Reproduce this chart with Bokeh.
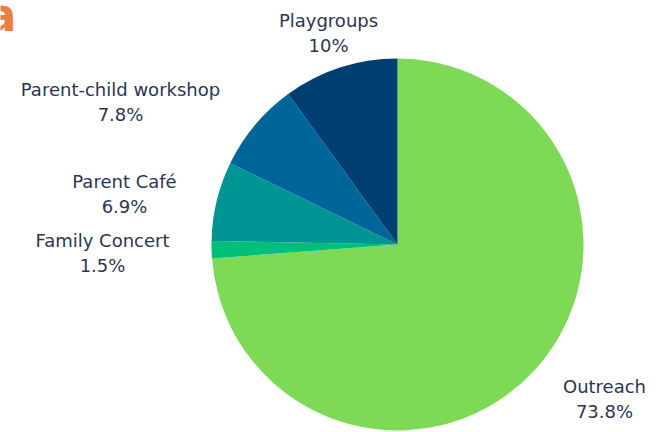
import math
from bokeh.plotting import figure
from bokeh.models import Range1d, ColumnDataSource
from bokeh.core.properties import value
from bokeh.embed import file_html
from bokeh.resources import INLINE

categories = ["Outreach", "Family Concert", "Parent Café", "Parent-child workshop", "Playgroups"]
shares = [73.8, 1.5, 6.9, 7.8, 10.0]
pct_labels = ["73.8%", "1.5%", "6.9%", "7.8%", "10%"]
colors = ["#7ED957", "#00BF7A", "#009494", "#006699", "#003F72"]

# layout (screen pixels of the picture)
W, H = 660, 432
CX, CY, R = 397, 244, 186
label_pos = [(604, 386), (102, 240), (124, 181), (120, 89), (328, 20)]
TEXT_COLOR = "#2B3650"
FONT = "DejaVu Sans"
FSIZE = "18px"

def sy(y):
    return H - y

total = sum(shares)
starts, ends = [], []
cum = 0.0
for s in shares:
    starts.append(math.pi / 2 - 2 * math.pi * cum / total)
    cum += s
    ends.append(math.pi / 2 - 2 * math.pi * cum / total)

src = ColumnDataSource(dict(cat=categories, start=starts, end=ends, color=colors,
                            x=[CX] * len(shares), y=[sy(CY)] * len(shares)))

p = figure(width=W, height=H, output_backend="svg", toolbar_location=None,
           x_range=Range1d(0, W), y_range=Range1d(0, H),
           min_border=0, outline_line_color=None)
p.axis.visible = False
p.grid.visible = False
p.background_fill_color = "white"
p.border_fill_color = "white"

p.wedge(x="x", y="y", radius=R, start_angle="start", end_angle="end",
        direction="clock", color="color", line_color=None, source=src)

lx = [pos[0] for pos in label_pos]
ly1 = [sy(pos[1]) for pos in label_pos]
ly2 = [sy(pos[1] + 25) for pos in label_pos]
p.text(x=lx, y=ly1, text=categories, text_align="center", text_baseline="middle",
       text_font=value(FONT), text_font_size=FSIZE, text_color=TEXT_COLOR)
p.text(x=lx, y=ly2, text=pct_labels, text_align="center", text_baseline="middle",
       text_font=value(FONT), text_font_size=FSIZE, text_color=TEXT_COLOR)

# clipped title fragment at top-left
p.text(x=[16], y=[sy(14)], text=["a"], text_align="right", text_baseline="alphabetic",
       text_font=value(FONT), text_font_style="bold", text_font_size="46px",
       text_color="#E8813F")

open("out.html", "w").write(file_html(p, INLINE))
